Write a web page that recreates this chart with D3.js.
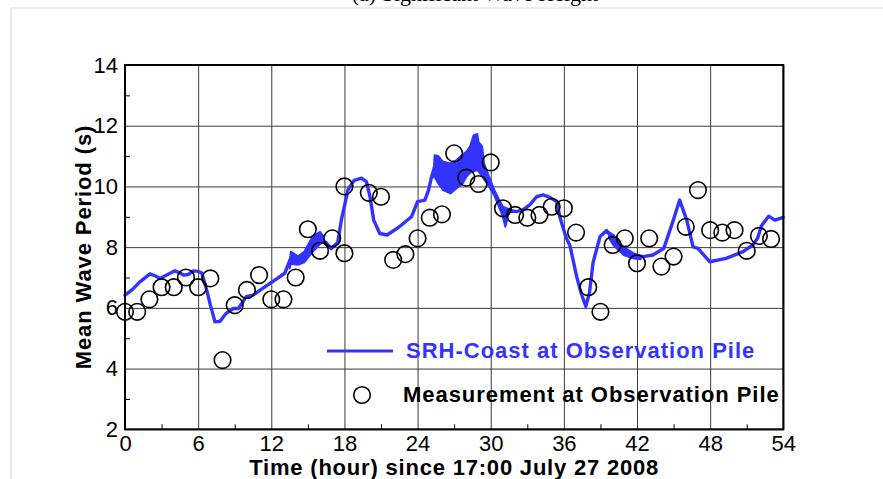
<!DOCTYPE html>
<html>
<head>
<meta charset="utf-8">
<script src="https://cdn.jsdelivr.net/npm/d3@7/dist/d3.min.js"></script>
<style>
  html, body { margin: 0; padding: 0; background: #fff; }
  svg { display: block; }
</style>
</head>
<body>
<svg id="chart" width="883" height="479"></svg>
<script>
// Measured mean wave period at the observation pile (hourly)
const measT = [0,1,2,3,4,5,6,7,8,9,10,11,12,13,14,15,16,17,18,18,
  20,21,22,23,24,25,26,27,28,29,30,31,32,33,34,35,36,37,38,39,40,
  41,42,43,44,45,46,47,48,49,50,51,52,53];
const measV = [5.87,5.87,6.28,6.68,6.68,7.0,6.68,6.97,4.28,6.09,6.59,7.08,6.28,6.28,7.0,8.59,7.88,8.29,10.0,7.8,
  9.79,9.66,7.58,7.77,8.29,8.97,9.08,11.09,10.29,10.08,10.79,9.28,9.06,8.97,9.06,9.33,9.28,8.48,6.68,5.87,8.07,
  8.29,7.47,8.29,7.36,7.69,8.67,9.88,8.56,8.48,8.56,7.88,8.37,8.27];

// SRH-Coast simulated mean wave period
const simT = [0,0.6,1.2,2.05,2.5,2.87,3.5,4.1,4.5,4.8,5.2,5.6,6.0,6.3,6.7,7.0,7.38,7.8,8.3,8.9,9.3,9.95,10.5,11.5,12.5,13.1,
  13.6,14.2,14.7,15.4,16.0,16.5,16.9,17.45,17.75,18.3,18.8,19.4,19.8,20.1,20.4,20.9,21.5,22.5,23.5,24.0,24.6,24.9,25.15,
  25.4,25.7,26.1,26.7,27.2,27.7,28.0,28.3,28.6,28.9,29.3,29.86,30.3,30.7,31.0,31.2,31.5,32.1,32.6,33.2,33.76,34.3,34.85,
  35.4,35.7,36.2,36.5,37.05,37.4,37.8,38.1,38.4,38.97,39.5,40.06,40.9,41.7,42.5,43.3,44.2,44.98,45.5,46.08,46.6,47.0,
  47.96,49.3,50.7,51.5,51.9,52.2,52.8,53.3,54.0];
const simV = [6.42,6.6,6.85,7.12,7.05,6.97,7.1,7.22,7.15,7.08,7.1,7.22,7.2,7.15,6.59,6.1,5.54,5.56,5.82,5.98,5.98,6.37,6.42,6.7,6.97,7.14,
  7.65,7.55,7.65,8.1,8.28,8.15,7.95,8.15,8.9,9.9,10.2,10.27,10.16,9.66,8.89,8.45,8.4,8.67,9.0,9.5,9.55,9.88,10.32,
  10.65,10.5,10.3,10.25,10.4,10.55,10.7,10.9,11.1,11.1,10.8,10.15,9.8,9.45,9.15,9.0,9.22,9.17,9.22,9.39,9.66,9.72,9.64,
  9.5,8.95,8.3,8.05,7.03,6.5,6.05,6.5,7.5,8.35,8.55,8.25,7.87,7.7,7.69,7.74,7.96,8.89,9.55,8.89,8.01,7.96,
  7.52,7.63,7.85,8.07,8.3,8.7,9.02,8.89,8.98];

// Envelopes of the fast oscillations in the simulated series
const band1T = [13.5,13.6,14.2,14.7,15.4,16.0,16.3];
const band1Lo = [7.3,7.45,7.42,7.5,7.85,8.1,8.2];
const band1Hi = [7.4,7.85,7.7,7.85,8.35,8.5,8.35];
const band2T = [25.3,25.4,25.7,26.1,26.7,27.2,27.7,28.0,28.3,28.6,28.9,29.0,29.3,29.45,29.86,30.3,30.7,31.0,31.2,31.5];
const band2Lo = [10.3,10.32,10.1,9.88,9.77,9.94,10.1,10.32,10.45,10.5,10.54,10.5,10.32,10.25,10.0,9.7,9.3,9.0,8.67,9.15];
const band2Hi = [10.4,11.03,11.0,10.81,10.76,10.87,11.05,11.14,11.31,11.69,11.73,11.47,11.31,10.76,10.32,9.88,9.55,9.33,9.3,9.25];
const band3T = [39.7,40.06,40.9,41.7,42.3];
const band3Lo = [8.3,8.07,7.74,7.63,7.6];
const band3Hi = [8.5,8.4,8.0,7.8,7.72];

const xMajor = [0,6,12,18,24,30,36,42,48,54];
const xMinor = [3,9,15,21,27,33,39,45,51];
const yMajor = [2,4,6,8,10,12,14];
const yMinor = [3,5,7,9,11,13];

const seriesLabel = "SRH-Coast at Observation Pile";
const measLabel = "Measurement at Observation Pile";
const xTitle = "Time (hour) since 17:00 July 27 2008";
const yTitle = "Mean Wave Period (s)";
const topTitle = "(a) Significant Wave Height";

const blue = "#3333ff";
const svg = d3.select("#chart");
const L = 125, R = 783.3, T = 65, B = 429.3;
const x = d3.scaleLinear().domain([0, 54]).range([L, R]);
const y = d3.scaleLinear().domain([2, 14]).range([B, T]);

// outer panel frame
svg.append("path").attr("d", `M11,479 V8 H883`).attr("fill", "none")
  .attr("stroke", "#dcdcdc").attr("stroke-width", 1.2);

// panel title (runs off the top edge of the panel)
svg.append("text").attr("x", 475).attr("y", 1)
  .attr("text-anchor", "middle")
  .style("font-family", "'Liberation Serif','Times New Roman',serif")
  .style("font-size", "22px").text(topTitle);

// gridlines
svg.append("g").attr("transform", `translate(0,${B})`)
  .call(d3.axisBottom(x).tickValues(xMajor).tickSize(-(B - T)).tickFormat(""))
  .call(g => g.select(".domain").remove())
  .call(g => g.selectAll("line").attr("stroke", "#3a3a3a").attr("stroke-width", 1));
svg.append("g").attr("transform", `translate(${L},0)`)
  .call(d3.axisLeft(y).tickValues(yMajor).tickSize(-(R - L)).tickFormat(""))
  .call(g => g.select(".domain").remove())
  .call(g => g.selectAll("line").attr("stroke", "#3a3a3a").attr("stroke-width", 1));

// minor ticks
svg.append("g").attr("transform", `translate(0,${B})`)
  .call(d3.axisBottom(x).tickValues(xMinor).tickSize(-5).tickFormat(""))
  .call(g => g.select(".domain").remove())
  .call(g => g.selectAll("line").attr("stroke", "#000").attr("stroke-width", 1));
svg.append("g").attr("transform", `translate(${L},0)`)
  .call(d3.axisLeft(y).tickValues(yMinor).tickSize(-5).tickFormat(""))
  .call(g => g.select(".domain").remove())
  .call(g => g.selectAll("line").attr("stroke", "#000").attr("stroke-width", 1));

// tick labels
const tickFont = "'Liberation Sans',Arial,sans-serif";
svg.append("g").attr("transform", `translate(0,${B})`)
  .call(d3.axisBottom(x).tickValues(xMajor).tickSize(0).tickPadding(6).tickFormat(d3.format("d")))
  .call(g => g.select(".domain").remove())
  .call(g => g.selectAll("text").attr("fill", "#000")
    .style("font-family", tickFont).style("font-size", "22px"));
svg.append("g").attr("transform", `translate(${L},0)`)
  .call(d3.axisLeft(y).tickValues(yMajor).tickSize(0).tickPadding(7).tickFormat(d3.format("d")))
  .call(g => g.select(".domain").remove())
  .call(g => g.selectAll("text").attr("fill", "#000")
    .style("font-family", tickFont).style("font-size", "22px"));

// oscillation envelopes
const area = d3.area().x(d => x(d[0])).y0(d => y(d[1])).y1(d => y(d[2]));
[[band1T, band1Lo, band1Hi], [band2T, band2Lo, band2Hi], [band3T, band3Lo, band3Hi]].forEach(([bt, lo, hi]) => {
  svg.append("path").datum(bt.map((t, i) => [t, lo[i], hi[i]]))
    .attr("d", area).attr("fill", blue).attr("stroke", blue)
    .attr("stroke-width", 2).attr("stroke-linejoin", "round");
});

// simulated series
const line = d3.line().x(d => x(d[0])).y(d => y(d[1])).curve(d3.curveLinear);
svg.append("path").datum(simT.map((t, i) => [t, simV[i]]))
  .attr("d", line).attr("fill", "none").attr("stroke", blue)
  .attr("stroke-width", 3.4).attr("stroke-linejoin", "round").attr("stroke-linecap", "round");

// measurements
svg.append("g").selectAll("circle").data(measT.map((t, i) => [t, measV[i]]))
  .join("circle")
  .attr("cx", d => x(d[0])).attr("cy", d => y(d[1])).attr("r", 8.3)
  .attr("fill", "none").attr("stroke", "#000").attr("stroke-width", 1.6);

// plot frame
svg.append("rect").attr("x", L).attr("y", T).attr("width", R - L).attr("height", B - T)
  .attr("fill", "none").attr("stroke", "#000").attr("stroke-width", 2);

// legend
const legFont = "'Liberation Sans',Arial,sans-serif";
svg.append("line").attr("x1", 327).attr("x2", 393).attr("y1", 351).attr("y2", 351)
  .attr("stroke", blue).attr("stroke-width", 3.2);
svg.append("text").attr("x", 406).attr("y", 358).attr("fill", blue)
  .style("font-family", legFont).style("font-size", "22px").style("font-weight", "bold")
  .style("letter-spacing", "1px").text(seriesLabel);
svg.append("circle").attr("cx", 362).attr("cy", 395).attr("r", 8.3)
  .attr("fill", "none").attr("stroke", "#000").attr("stroke-width", 1.6);
svg.append("text").attr("x", 403).attr("y", 402).attr("fill", "#000")
  .style("font-family", legFont).style("font-size", "22px").style("font-weight", "bold")
  .style("letter-spacing", "0.95px").text(measLabel);

// axis titles
svg.append("text").attr("x", (L + R) / 2).attr("y", 475)
  .attr("text-anchor", "middle").attr("fill", "#000")
  .style("font-family", legFont).style("font-size", "22px").style("font-weight", "bold")
  .style("letter-spacing", "0.8px").text(xTitle);
svg.append("text").attr("transform", "translate(91,247) rotate(-90)")
  .attr("text-anchor", "middle").attr("fill", "#000")
  .style("font-family", legFont).style("font-size", "22px").style("font-weight", "bold")
  .style("letter-spacing", "0.9px").text(yTitle);
</script>
</body>
</html>
